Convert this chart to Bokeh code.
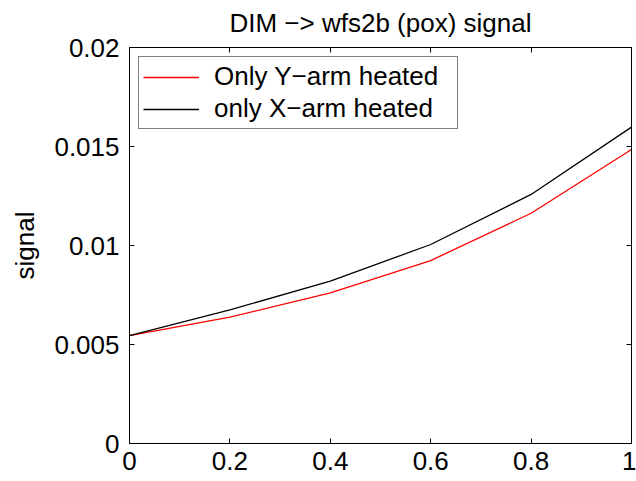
from bokeh.plotting import figure
from bokeh.models import Range1d, LinearAxis, FixedTicker, Legend, LegendItem
from bokeh.embed import file_html
from bokeh.resources import INLINE

# ---- data ----
x_vals = [0.0, 0.2, 0.4, 0.6, 0.8, 1.0]
y_arm_heated = [0.00545, 0.00638, 0.00761, 0.00924, 0.01163, 0.01485]
x_arm_heated = [0.00545, 0.00675, 0.00820, 0.01005, 0.01258, 0.01598]
x_ticks = [0.0, 0.2, 0.4, 0.6, 0.8, 1.0]
x_tick_labels = ["0", "0.2", "0.4", "0.6", "0.8", "1"]
y_ticks = [0.0, 0.005, 0.01, 0.015, 0.02]
y_tick_labels = ["0", "0.005", "0.01", "0.015", "0.02"]
title_text = "DIM \u2212> wfs2b (pox) signal"
y_label = "signal"
series_labels = ["Only Y\u2212arm heated", "only X\u2212arm heated"]

FONT = "Liberation Sans"
FS = "26px"

p = figure(width=636, height=481,
           x_range=Range1d(0, 1), y_range=Range1d(0, 0.02),
           output_backend="svg", toolbar_location=None,
           min_border_left=129, min_border_right=5,
           min_border_top=47, min_border_bottom=38)

p.xgrid.visible = False
p.ygrid.visible = False
p.outline_line_color = "black"
p.outline_line_width = 1
p.background_fill_color = "white"
p.border_fill_color = "white"

xa = p.below[0]
xa.ticker = FixedTicker(ticks=x_ticks)
xa.major_label_overrides = dict(zip(x_ticks, x_tick_labels))
ya = p.left[0]
ya.ticker = FixedTicker(ticks=y_ticks)
ya.major_label_overrides = dict(zip(y_ticks, y_tick_labels))
ya.axis_label = y_label
ya.axis_label_standoff = 11

for ax in (xa, ya):
    ax.major_tick_in = 5
    ax.major_tick_out = 0
    ax.minor_tick_line_color = None
    ax.axis_line_color = "black"
    ax.major_tick_line_color = "black"
    ax.major_label_text_font = FONT
    ax.major_label_text_font_size = FS
    ax.major_label_text_color = "black"
xa.major_label_standoff = 8
ya.major_label_standoff = 10

# box ticks on top and right; the top axis carries the chart title
top_ax = LinearAxis(ticker=FixedTicker(ticks=x_ticks), axis_label=title_text,
                    axis_label_standoff=10)
right_ax = LinearAxis(ticker=FixedTicker(ticks=y_ticks))
for ax in (top_ax, right_ax):
    ax.major_label_text_font_size = "0px"
    ax.major_label_text_alpha = 0
    ax.major_label_standoff = 0
    ax.major_tick_in = 5
    ax.major_tick_out = 0
    ax.minor_tick_line_color = None
    ax.axis_line_color = "black"
    ax.major_tick_line_color = "black"
p.add_layout(top_ax, "above")
p.add_layout(right_ax, "right")

for ax in (ya, top_ax):
    ax.axis_label_text_font = FONT
    ax.axis_label_text_font_size = FS
    ax.axis_label_text_font_style = "normal"
    ax.axis_label_text_color = "black"

r1 = p.line(x_vals, y_arm_heated, line_color="#ff0000", line_width=1.3)
r2 = p.line(x_vals, x_arm_heated, line_color="#000000", line_width=1.3)

legend = Legend(items=[LegendItem(label=series_labels[0], renderers=[r1]),
                       LegendItem(label=series_labels[1], renderers=[r2])],
                location="top_left", margin=9, padding=4, spacing=1,
                label_height=30, glyph_height=30, glyph_width=56,
                label_standoff=15, label_width=239,
                label_text_font=FONT, label_text_font_size=FS,
                label_text_color="black",
                border_line_color="black", border_line_width=1,
                background_fill_color="white", background_fill_alpha=1)
p.add_layout(legend, "center")

open("out.html", "w").write(file_html(p, INLINE))
